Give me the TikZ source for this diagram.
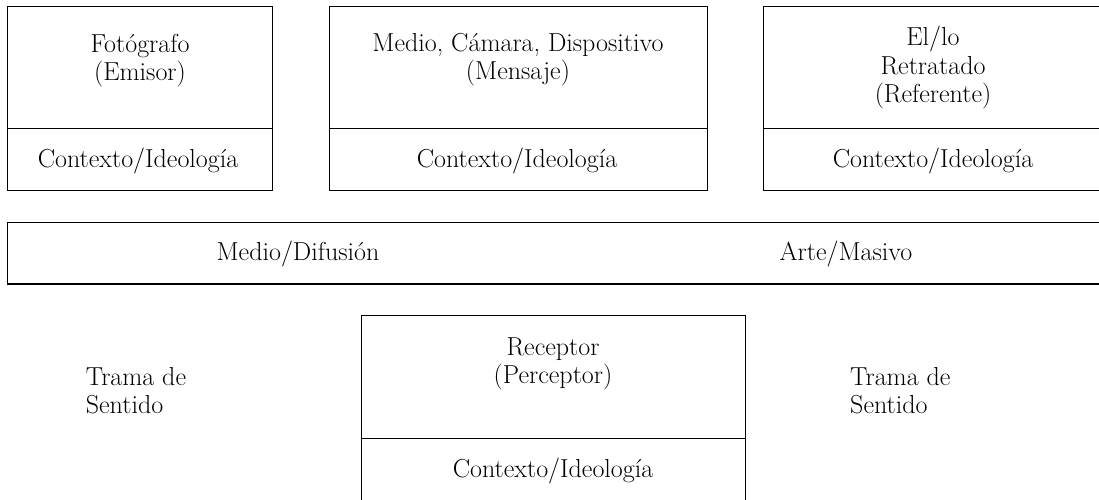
\documentclass[tikz,border=0pt]{standalone}
\usepackage{fontspec}
\usepackage{tikz}

\tikzset{caja/.style={line width=1.4pt},
  txt/.style={font=\fontsize{26}{28.5}\selectfont, align=center, inner sep=0pt, anchor=base},
  txtl/.style={txt, align=left, anchor=base west}}

\begin{document}
\begin{tikzpicture}[x=1pt,y=1pt]
\useasboundingbox (0,0) rectangle (1099,500);
% cajas de arriba
\draw[caja] (7.3,309.3) rectangle (272.7,493.7);
\draw[caja] (7.3,371.7) -- (272.7,371.7);
\draw[caja] (329.3,309.3) rectangle (707.3,493.7);
\draw[caja] (329.3,371.7) -- (707.3,371.7);
\draw[caja] (1110,309.3) -- (763.7,309.3) -- (763.7,493.7) -- (1110,493.7);
\draw[caja] (763.7,371.7) -- (1110,371.7);
% franja del medio
\draw[caja] (1110,216) -- (7.3,216) -- (7.3,277.7) -- (1110,277.7);
% caja de abajo
\draw[caja] (361.5,-10) -- (361.5,184.3) -- (745.3,184.3) -- (745.3,-10);
\draw[caja] (361.5,61.7) -- (745.3,61.7);

\node[txt] (emisor) at (140,419) {Fotógrafo\\(Emisor)};
\node[txt] (ctx1) at (138,332) {Contexto/Ideología};
\node[txt] (mensaje) at (518,420) {Medio, Cámara, Dispositivo\\(Mensaje)};
\node[txt] (ctx2) at (517,332) {Contexto/Ideología};
\node[txt] (referente) at (933,397) {El/lo\\Retratado\\(Referente)};
\node[txt] (ctx3) at (933,332) {Contexto/Ideología};

\node[txt] (difusion) at (298,239) {Medio/Difusión};
\node[txt] (masivo) at (846,239) {Arte/Masivo};

\node[txt] (receptor) at (553,116) {Receptor\\(Perceptor)};
\node[txt] (ctx4) at (553,22) {Contexto/Ideología};
\node[txtl] (tramaA) at (85.7,86) {Trama de\\Sentido};
\node[txtl] (tramaB) at (850,86) {Trama de\\Sentido};
\end{tikzpicture}
\end{document}
